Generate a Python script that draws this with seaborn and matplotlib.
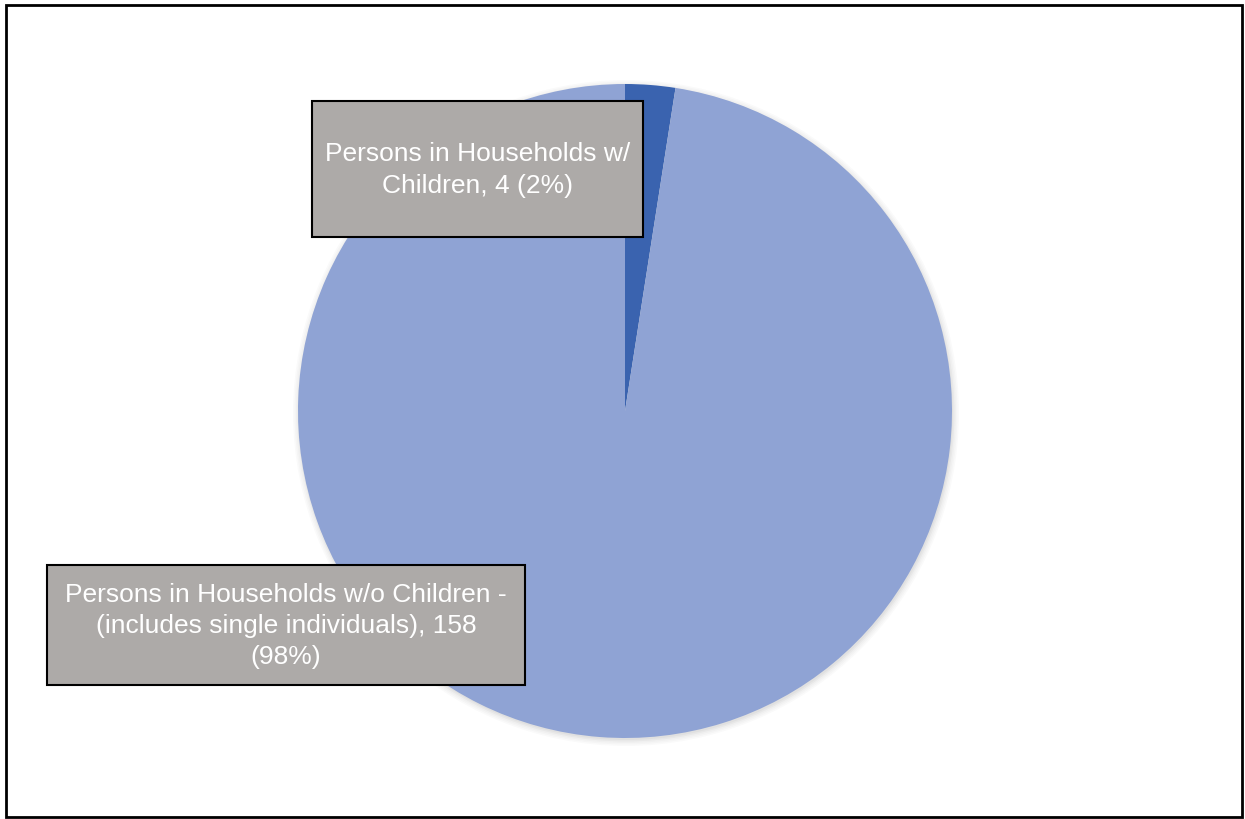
import matplotlib
matplotlib.use("Agg")
import matplotlib.pyplot as plt
import seaborn as sns
from matplotlib.patches import Rectangle, Circle

sns.set_theme(style="white")
plt.rcParams['font.family'] = ['Liberation Sans', 'DejaVu Sans']

categories = ["Persons in Households w/ Children",
              "Persons in Households w/o Children - (includes single individuals)"]
values = [4, 158]
label_texts = ["Persons in Households w/\nChildren, 4 (2%)",
               "Persons in Households w/o Children -\n(includes single individuals), 158\n(98%)"]
colors = ["#3A63AF", "#8FA3D4"]

W, H = 1245, 819
fig = plt.figure(figsize=(W / 100, H / 100), dpi=100)
ax = fig.add_axes([0, 0, 1, 1])

cx, cy, r = 625, 411, 327
# soft shadow
for i, a in enumerate([0.02, 0.02, 0.02, 0.03, 0.03]):
    ax.add_patch(Circle((cx + 1, cy + 2), r + 6 - i * 1.5, color='black', alpha=a, lw=0, zorder=1))

# y axis is inverted (pixel-like coords): startangle -90 = top, counterclock appears clockwise
ax.pie(values, colors=colors, startangle=-90, counterclock=True,
       center=(cx, cy), radius=r, frame=True,
       wedgeprops=dict(linewidth=0, zorder=2))
ax.set_xlim(0, W)
ax.set_ylim(H, 0)
ax.set_aspect('equal')
ax.axis('off')

boxes = [(312, 101, 331, 136), (47, 565, 478, 120)]
for (x, y, w, h), txt in zip(boxes, label_texts):
    ax.add_patch(Rectangle((x, y), w, h, facecolor="#ADAAA8", edgecolor="black", lw=1.5, zorder=5))
    ax.text(x + w / 2, y + h / 2 + 1, txt, ha='center', va='center', color='white',
            fontsize=19, linespacing=1.38, zorder=6)

ax.add_patch(Rectangle((6, 5), 1236, 812, fill=False, edgecolor='black', lw=2, zorder=7))

fig.savefig("out.png", dpi=100)
